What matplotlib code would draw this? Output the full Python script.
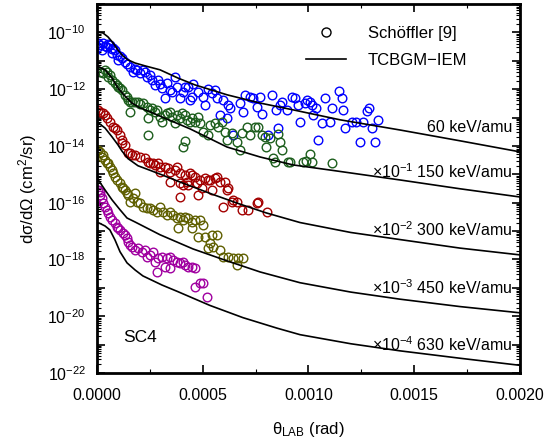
import numpy as np
import matplotlib
matplotlib.use("Agg")
import matplotlib.pyplot as plt
from matplotlib.lines import Line2D
from matplotlib.ticker import LogLocator, FuncFormatter, MultipleLocator, NullFormatter

plt.rcParams['font.family'] = ['Liberation Sans', 'DejaVu Sans']
plt.rcParams['mathtext.default'] = 'regular'

# scattering angle in microrad, cross section as log10 of dsigma/dOmega (cm^2/sr)
# measured points (Schoeffler [9]), already multiplied by the scale factors
th_60 = [5, 5, 14, 28, 24, 38, 47, 52, 61, 71, 76, 85, 71, 95, 99, 109, 118, 132, 142, 156,
         170, 180, 189, 203, 217, 227, 236, 251, 260, 274, 288, 298, 307, 322, 331, 345, 355,
         369, 378, 392, 407, 416, 430, 440, 449, 454, 478, 501, 511, 525, 544, 558, 567, 582,
         596, 615, 619, 629, 643, 676, 690, 700, 723, 738, 756, 771, 780, 808, 827, 846, 856,
         865, 875, 898, 922, 936, 950, 960, 983, 993, 1007, 1017, 1021, 1035, 1045, 1064, 1078,
         1102, 1111, 1144, 1158, 1163, 1173, 1206, 1225, 1244, 1258, 1277, 1286, 1300, 1314, 1329]
lg_60 = [-10.37, -10.51, -10.44, -10.37, -10.62, -10.48, -10.51, -10.41, -10.44, -10.58, -10.55,
         -10.62, -10.73, -10.80, -10.97, -10.83, -10.90, -11.04, -11.11, -11.22, -11.39, -11.29,
         -11.32, -11.43, -11.32, -11.39, -11.57, -11.50, -11.68, -11.85, -11.68, -11.82, -11.96,
         -12.31, -11.78, -12.03, -12.10, -11.57, -11.92, -12.31, -12.10, -11.92, -11.92, -12.38,
         -12.27, -11.82, -12.10, -12.27, -12.56, -11.99, -12.13, -12.03, -12.31, -12.91, -12.38,
         -13.01, -12.56, -12.66, -13.61, -12.49, -12.80, -12.20, -12.27, -12.31, -12.63, -12.27,
         -12.87, -13.61, -12.20, -12.73, -13.37, -12.56, -12.45, -12.73, -12.27, -12.31, -12.56,
         -13.15, -12.49, -12.38, -12.45, -12.56, -12.91, -12.66, -13.79, -13.19, -12.31, -13.15,
         -12.66, -12.06, -12.31, -12.73, -13.37, -13.15, -13.15, -13.86, -13.15, -12.77, -12.66,
         -13.37, -13.86, -13.08]

th_150 = [14, 28, 38, 47, 52, 61, 71, 85, 95, 99, 109, 118, 132, 142, 147, 156, 156, 165, 180,
          194, 203, 217, 236, 241, 241, 251, 260, 274, 284, 298, 307, 322, 331, 345, 355, 369,
          378, 392, 402, 407, 416, 416, 426, 440, 449, 463, 478, 487, 501, 525, 534, 558, 572,
          591, 605, 615, 638, 662, 676, 686, 709, 723, 747, 761, 780, 794, 799, 818, 832, 842,
          856, 865, 875, 903, 912, 974, 988, 1007, 1017, 1111]
lg_150 = [-11.39, -11.43, -11.32, -11.39, -11.57, -11.50, -11.68, -11.78, -11.85, -11.92, -11.96,
          -12.03, -12.20, -12.27, -12.38, -12.45, -12.80, -12.45, -12.45, -12.45, -12.52, -12.49,
          -12.63, -13.01, -13.61, -12.73, -12.66, -12.80, -12.73, -12.98, -13.15, -12.91, -12.84,
          -12.80, -12.98, -13.19, -12.91, -13.01, -12.84, -14.04, -13.82, -12.91, -13.08, -13.15,
          -13.01, -13.15, -12.98, -13.19, -13.51, -13.61, -13.26, -13.19, -13.33, -13.15, -13.51,
          -13.79, -13.54, -13.86, -14.14, -13.54, -13.33, -13.61, -13.33, -13.33, -13.61, -13.68,
          -14.04, -13.72, -14.42, -14.56, -13.58, -13.86, -14.14, -14.56, -14.56, -14.56, -14.53,
          -14.28, -14.56, -14.60]

th_300 = [5, 14, 28, 38, 47, 61, 76, 85, 95, 109, 118, 118, 132, 147, 156, 165, 180, 203, 227,
          241, 251, 265, 274, 288, 298, 298, 322, 336, 345, 345, 369, 378, 392, 392, 392, 407,
          416, 426, 430, 440, 449, 463, 473, 478, 487, 496, 511, 525, 534, 544, 558, 567, 582,
          596, 605, 615, 619, 638, 643, 662, 686, 714, 756, 761, 804]
lg_300 = [-12.73, -12.80, -12.84, -12.91, -13.01, -13.15, -13.33, -13.37, -13.44, -13.61, -13.79,
          -13.89, -13.96, -14.25, -14.25, -14.32, -14.32, -14.39, -14.42, -14.56, -14.60, -14.60,
          -14.67, -14.60, -14.74, -14.92, -14.74, -14.77, -14.92, -15.27, -14.85, -14.74, -14.95,
          -15.30, -15.80, -15.37, -15.02, -15.27, -15.37, -14.95, -15.02, -15.09, -15.30, -15.73,
          -15.20, -15.48, -15.13, -15.20, -15.20, -15.55, -15.13, -15.09, -15.27, -16.15, -15.27,
          -15.55, -15.48, -15.97, -15.90, -15.97, -16.25, -16.25, -16.01, -15.97, -16.32]

th_450 = [5, 14, 24, 28, 38, 47, 52, 61, 71, 76, 85, 95, 109, 118, 123, 132, 142, 147, 156, 170,
          180, 189, 203, 217, 236, 251, 265, 284, 298, 312, 331, 345, 360, 378, 383, 392, 407,
          416, 430, 449, 449, 463, 478, 487, 501, 511, 525, 534, 544, 548, 567, 582, 596, 619,
          643, 662, 667, 690]
lg_450 = [-14.14, -14.21, -14.39, -14.32, -14.49, -14.60, -14.60, -14.74, -14.85, -14.95, -15.09,
          -15.20, -15.30, -15.44, -15.48, -15.55, -15.65, -15.73, -15.97, -15.83, -15.65, -15.97,
          -16.01, -16.15, -16.18, -16.18, -16.25, -16.32, -16.15, -16.32, -16.43, -16.32, -16.43,
          -16.54, -16.89, -16.50, -16.61, -16.50, -16.54, -16.68, -16.89, -16.61, -17.20, -16.61,
          -16.78, -17.20, -17.59, -17.42, -17.13, -17.56, -17.13, -17.66, -17.91, -17.91, -17.94,
          -18.19, -17.94, -17.94]

th_630 = [5, 14, 14, 24, 28, 38, 47, 52, 61, 71, 85, 95, 99, 109, 123, 132, 142, 147, 156, 165,
          180, 194, 213, 227, 236, 251, 265, 274, 284, 288, 307, 322, 331, 345, 345, 360, 378,
          392, 407, 416, 430, 449, 463, 463, 487, 501, 520]
lg_630 = [-15.55, -15.62, -15.73, -15.83, -16.01, -16.15, -16.25, -16.36, -16.50, -16.61, -16.71,
          -16.85, -16.89, -16.96, -17.06, -17.13, -17.24, -17.38, -17.49, -17.56, -17.66, -17.59,
          -17.73, -17.66, -17.91, -17.84, -17.73, -18.08, -18.44, -17.94, -17.91, -18.26, -17.94,
          -17.91, -18.30, -18.01, -18.08, -18.12, -18.08, -18.19, -18.26, -18.26, -18.30, -18.96,
          -18.82, -18.82, -19.32]

# TCBGM-IEM curves
thc_60 = [0, 28, 52, 76, 99, 123, 147, 180, 227, 298, 383, 463, 615, 771, 927, 1149, 1433, 1716, 2000]
lgc_60 = [-9.99, -10.02, -10.16, -10.37, -10.62, -10.83, -10.97, -11.08, -11.18, -11.32, -11.61,
          -11.85, -12.20, -12.49, -12.73, -13.08, -13.44, -13.82, -14.21]

thc_150 = [0, 38, 71, 99, 132, 165, 203, 251, 307, 440, 615, 771, 927, 1102, 1433, 1716, 2000]
lgc_150 = [-11.18, -11.32, -11.61, -11.96, -12.24, -12.49, -12.66, -12.80, -12.98, -13.40, -14.04,
           -14.39, -14.67, -14.85, -15.20, -15.51, -15.80]

thc_300 = [0, 38, 71, 99, 118, 147, 194, 251, 307, 402, 463, 544, 676, 800, 960, 1200, 1433,
           1716, 2000]
lgc_300 = [-13.15, -13.37, -13.68, -13.96, -14.18, -14.45, -14.70, -14.86, -15.02, -15.30, -15.47,
           -15.70, -16.05, -16.36, -16.70, -17.05, -17.30, -17.60, -17.84]

thc_450 = [0, 38, 71, 109, 142, 180, 298, 454, 615, 771, 960, 1200, 1433, 1716, 2000]
lgc_450 = [-15.13, -15.55, -15.90, -16.25, -16.54, -16.68, -17.13, -17.63, -18.05, -18.44, -18.82,
           -19.15, -19.40, -19.66, -19.88]

thc_630 = [0, 38, 61, 85, 109, 142, 180, 217, 307, 378, 534, 690, 851, 960, 1200, 1433, 1716, 2000]
lgc_630 = [-16.68, -16.82, -16.96, -17.31, -17.73, -18.12, -18.37, -18.58, -18.90, -19.12, -19.62,
           -20.05, -20.42, -20.65, -20.97, -21.22, -21.48, -21.73]

colors = ['#0000ff', '#1d5e1d', '#a30000', '#5f5f00', '#a000a0']
points = [(th_60, lg_60), (th_150, lg_150), (th_300, lg_300), (th_450, lg_450), (th_630, lg_630)]
curves = [(thc_60, lgc_60), (thc_150, lgc_150), (thc_300, lgc_300), (thc_450, lgc_450), (thc_630, lgc_630)]
labels = ['60 keV/amu', r'$\times$10$^{-1}$ 150 keV/amu', r'$\times$10$^{-2}$ 300 keV/amu',
          r'$\times$10$^{-3}$ 450 keV/amu', r'$\times$10$^{-4}$ 630 keV/amu']
label_y = [0.664, 0.545, 0.3875, 0.230, 0.076]

fig = plt.figure(figsize=(5.51, 4.46), dpi=100)
ax = fig.add_axes([0.176, 0.1637, 0.7677, 0.8274])

for (th, lg), c in zip(points, colors):
    ax.plot(np.array(th) * 1e-6, 10.0 ** np.array(lg), 'o', mfc='none', mec=c, ms=6.2, mew=1.0)
for th, lg in curves:
    ax.plot(np.array(th) * 1e-6, 10.0 ** np.array(lg), '-', color='black', lw=1.2)

for lab, yy in zip(labels, label_y):
    ax.text(0.981, yy, lab, transform=ax.transAxes, ha='right', va='center', fontsize=11.5)
ax.text(0.063, 0.095, 'SC4', transform=ax.transAxes, ha='left', va='center', fontsize=12.5)

ax.set_yscale('log')
ax.set_xlim(0, 0.002)
ax.set_ylim(1e-22, 1e-9)
ax.xaxis.set_major_locator(MultipleLocator(0.0005))
ax.xaxis.set_minor_locator(MultipleLocator(0.00025))
ax.xaxis.set_major_formatter(FuncFormatter(lambda v, p: f'{v:.4f}'))
ax.yaxis.set_major_locator(LogLocator(base=10, numticks=40))
ax.yaxis.set_minor_locator(LogLocator(base=10, subs=np.arange(2, 10), numticks=40))
ax.yaxis.set_minor_formatter(NullFormatter())


def even_decades(v, p):
    e = int(round(np.log10(v)))
    return f'$10^{{{e}}}$' if e % 2 == 0 else ''


ax.yaxis.set_major_formatter(FuncFormatter(even_decades))
ax.tick_params(which='both', direction='in', top=True, right=True, labelsize=11.5)
ax.tick_params(which='major', length=6, width=1.2)
ax.tick_params(axis='x', which='major', pad=11)
ax.tick_params(axis='y', which='major', pad=8)
ax.tick_params(which='minor', length=3, width=0.8)
for s in ax.spines.values():
    s.set_linewidth(2)

ax.set_xlabel(r'$\theta_{LAB}$ (rad)', fontsize=12, labelpad=12)
ax.set_ylabel(r'd$\sigma$/d$\Omega$ (cm$^2$/sr)', fontsize=12, labelpad=6)

handles = [Line2D([], [], ls='none', marker='o', mfc='none', mec='black', ms=6.5, mew=1.0),
           Line2D([], [], color='black', lw=1.2)]
ax.legend(handles, ['Schöffler [9]', 'TCBGM\u2212IEM'], loc='upper left',
          bbox_to_anchor=(0.495, 0.94), frameon=False, fontsize=12, handlelength=2.4,
          borderpad=0, borderaxespad=0, labelspacing=0.72, handletextpad=1.3)

fig.savefig('out.png', dpi=100)
